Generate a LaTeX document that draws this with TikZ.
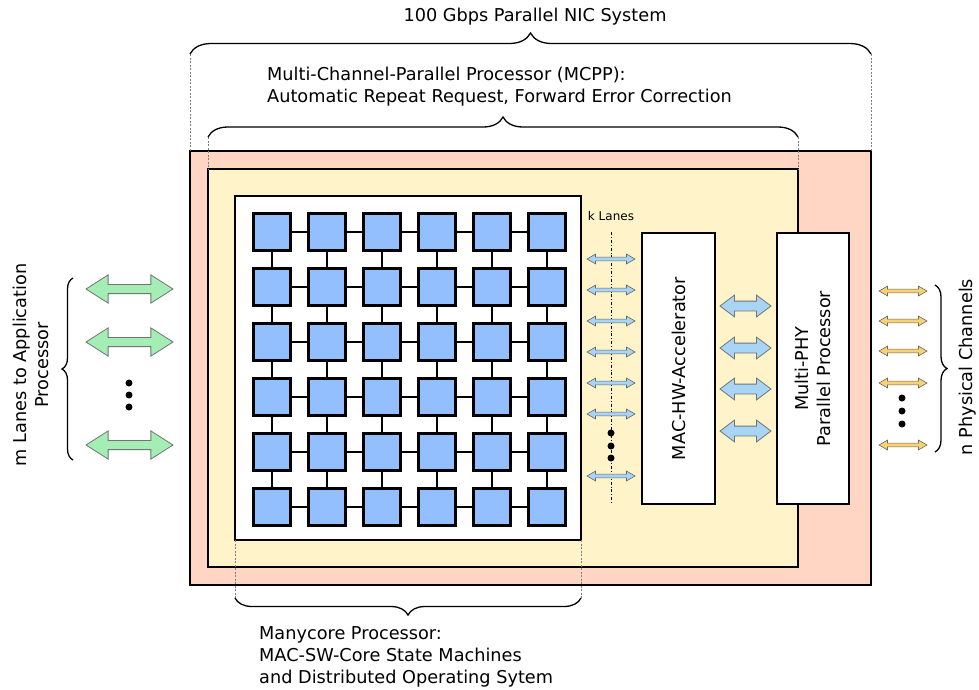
\documentclass[tikz,border=0pt]{standalone}
\usepackage{fontspec}
\setmainfont{DejaVu Sans}
\usetikzlibrary{shapes.arrows,decorations.pathreplacing}

\definecolor{nicpink}{HTML}{FFD5C3}
\definecolor{mcppyellow}{HTML}{FFF3CA}
\definecolor{coreblue}{HTML}{94BFFF}
\definecolor{laneblue}{HTML}{A8D4F6}
\definecolor{appgreen}{HTML}{A4EEB6}
\definecolor{phyorange}{HTML}{F9D272}

\begin{document}
\begin{tikzpicture}[x=1pt, y=-1pt,
  txt/.style={font=\fontsize{17.7}{22}\selectfont, inner sep=0},
  panel/.style={draw, line width=2.6pt, inner sep=0, outer sep=0},
  core/.style={draw, line width=2.2pt, fill=coreblue, minimum size=37pt, inner sep=0},
  link/.style={line width=1.4pt},
  guide/.style={gray, line width=0.8pt, dash pattern=on 2pt off 1.5pt},
  brace/.style={decorate, decoration={brace, amplitude=#1}, line width=1.3pt},
  dot/.style={circle, fill, inner sep=0, minimum size=7pt},
  fatarrow/.style={double arrow, draw=black!55, line width=0.8pt, inner sep=0},
  thinarrow/.style={double arrow, draw=black!60, line width=0.6pt, inner sep=0,
    inner ysep=1.6pt, minimum height=48pt, double arrow head extend=3pt,
    double arrow tip angle=60}]
\useasboundingbox (0,0) rectangle (979,689);

 % nested blocks
 \node[panel, fill=nicpink, minimum width=681pt, minimum height=434pt] (nic) at (530.5,368) {};
 \node[panel, fill=mcppyellow, minimum width=590pt, minimum height=398pt] (mcpp) at (503,368) {};
 \node[panel, fill=white, line width=2.3pt, minimum width=346pt, minimum height=344pt] (many) at (408,368) {};
 \node[panel, fill=white, line width=2.3pt, minimum width=73pt, minimum height=271pt] (mac) at (678.5,368.5) {};
 \node[panel, fill=white, line width=2.3pt, minimum width=72pt, minimum height=271pt] (phy) at (813,368.5) {};

 \node[txt, rotate=90] (mactext) at (mac) {MAC-HW-Accelerator};
 \node[txt, rotate=90, align=center] (phytext) at (phy) {Multi-PHY\\Parallel Processor};

 % 6x6 core mesh
 \foreach \i in {1,...,6}
  \foreach \j in {1,...,6}
   \node[core] (c-\i-\j) at (217+55*\j, 177+55*\i) {};
 \foreach \i in {1,...,6}
  \foreach \j [count=\jj from 2] in {1,...,5} {
   \draw[link] (c-\i-\j) -- (c-\i-\jj);
   \draw[link] (c-\j-\i) -- (c-\jj-\i);
  }

 % k lanes
 \node[font=\fontsize{12}{14}\selectfont, inner sep=0] (klanes) at (611,216) {k Lanes};
 \coordinate (ktop) at (611,232);
 \coordinate (kbot) at (611,504);
 \draw[line width=0.8pt, dash dot] (ktop) -- (kbot);
 \foreach \y [count=\i] in {259,290,321,352,383,414,476}
  \node[thinarrow, fill=laneblue] (k\i) at (611,\y) {};
 \foreach \y in {433,446,458}
  \node[dot] at (611,\y) {};

 % accelerator <-> phy
 \foreach \y [count=\i] in {306,348,389,431}
  \node[fatarrow, fill=laneblue, inner ysep=4.5pt, minimum height=51pt,
    double arrow head extend=6pt, double arrow tip angle=74] (h\i) at (745.5,\y) {};

 % application side
 \foreach \y [count=\i] in {289,342,445}
  \node[fatarrow, fill=appgreen, inner ysep=4.2pt, minimum height=87pt,
    double arrow head extend=9.5pt, double arrow tip angle=65] (m\i) at (129.5,\y) {};
 \foreach \y in {383,395,407}
  \node[dot] at (129,\y) {};
 \coordinate (mtop) at (73,278);
 \coordinate (mbot) at (73,460);
 \draw[brace=11pt] (mbot) -- (mtop);
 \node[txt, rotate=90, align=center] (apptext) at (31,365) {m Lanes to Application\\Processor};

 % physical channels
 \foreach \y [count=\i] in {291,321,351,383,445}
  \node[thinarrow, fill=phyorange] (n\i) at (903,\y) {};
 \foreach \y in {398,411,424}
  \node[dot] at (902,\y) {};
 \coordinate (ntop) at (935,285);
 \coordinate (nbot) at (935,452);
 \draw[brace=12pt] (ntop) -- (nbot);
 \node[txt, rotate=90] (chantext) at (968,367) {n Physical Channels};

 % system brace
 \coordinate (sysl) at (190,54);
 \coordinate (sysr) at (871,54);
 \draw[guide] (sysl) -- (nic.north west);
 \draw[guide] (sysr) -- (nic.north east);
 \draw[brace=21pt] (sysl) -- (sysr);
 \node[txt] (systext) at (535,17) {100 Gbps Parallel NIC System};

 % mcpp brace
 \coordinate (mcppl) at (208,137);
 \coordinate (mcppr) at (798,137);
 \draw[guide] (mcppl) -- (mcpp.north west);
 \draw[guide] (mcppr) -- (mcpp.north east);
 \draw[brace=20pt] (mcppl) -- (mcppr);
 \node[txt, align=left, anchor=west] (mcpptext) at (267,87) {Multi-Channel-Parallel Processor (MCPP):\\Automatic Repeat Request, Forward Error Correction};

 % manycore brace
 \coordinate (manyl) at (235,598);
 \coordinate (manyr) at (581,598);
 \draw[guide] (many.south west) -- (manyl);
 \draw[guide] (many.south east) -- (manyr);
 \draw[brace=17pt] (manyr) -- (manyl);
 \node[txt, align=left, anchor=west] (manytext) at (259,657) {Manycore Processor:\\MAC-SW-Core State Machines\\and Distributed Operating Sytem};
\end{tikzpicture}
\end{document}
